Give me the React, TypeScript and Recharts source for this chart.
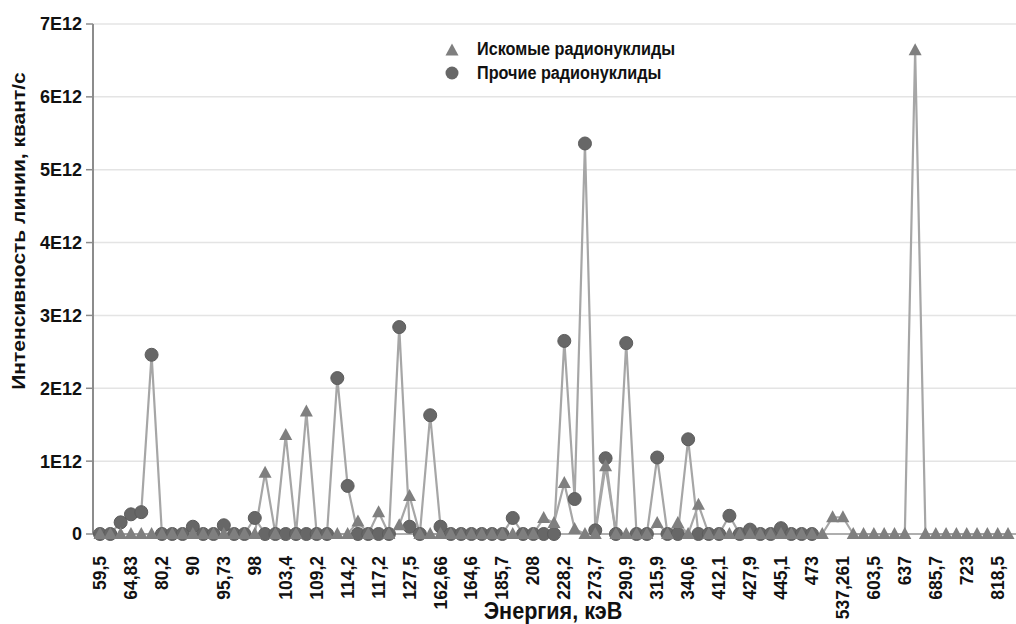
import { LineChart, Line, XAxis, YAxis, CartesianGrid, Legend } from "recharts";

// energy lines, keV (every third one is labelled on the axis)
const energies = [
  "59,5", "60,2", "63,3", "64,83", "72,8", "74,97", "80,2", "84,2", "87,3", "90",
  "92,4", "93,4", "95,73", "96,7", "97,4", "98", "99,5", "101,1", "103,4", "105,3",
  "106,1", "109,2", "110,8", "111,3", "114,2", "115,2", "116,3", "117,2", "121,1", "125,7",
  "127,5", "129,3", "158,4", "162,66", "163,3", "163,9", "164,6", "168,6", "176,4", "185,7",
  "192,4", "205,3", "208", "209,3", "215,7", "228,2", "238,6", "241,9", "273,7", "277,4",
  "285,5", "290,9", "295,2", "300,1", "315,9", "319,4", "328,8", "340,6", "351,9", "401,8",
  "412,1", "414,4", "418,5", "427,9", "433,9", "438,6", "445,1", "452,5", "463", "473",
  "510,8", "520,2", "537,261", "563,2", "583,2", "603,5", "609,3", "621,9", "637", "661,7",
  "680,5", "685,7", "696,5", "709,3", "723", "752,5", "795,9", "818,5", "834,8",
];

// intensity, units of 1E12 quanta/s
const soughtValues = [
  0, 0, 0, 0, 0, 0, 0, 0, 0, 0,
  0, 0, 0, 0, 0, 0, 0.84, 0, 1.36, 0,
  1.68, 0, 0, 0, 0, 0.17, 0, 0.3, 0, 0.12,
  0.52, 0, 0, 0, 0, 0, 0, 0, 0, 0,
  0, 0, 0, 0.22, 0.15, 0.7, 0.07, 0, 0, 0.93,
  0, 0, 0, 0, 0.15, 0, 0.15, 0, 0.4, 0,
  0, 0, 0, 0, 0, 0, 0, 0, 0, 0,
  0, 0.23, 0.23, 0, 0, 0, 0, 0, 0, 6.64,
  0, 0, 0, 0, 0, 0, 0, 0, 0,
];

const otherValues = [
  0, 0, 0.16, 0.27, 0.3, 2.46, 0, 0, 0, 0.1,
  0, 0, 0.12, 0, 0, 0.22, 0, 0, 0, 0,
  0, 0, 0, 2.14, 0.66, 0, 0, 0, 0, 2.84,
  0.1, 0, 1.63, 0.1, 0, 0, 0, 0, 0, 0,
  0.22, 0, 0, 0, 0, 2.65, 0.48, 5.36, 0.05, 1.04,
  0, 2.62, 0, 0, 1.05, 0, 0, 1.3, 0, 0,
  0, 0.25, 0, 0.06, 0, 0, 0.08, 0, 0, 0,
  null, null, null, null, null, null, null, null, null, null,
  null, null, null, null, null, null, null, null, null,
];

const yTicks = [0, 1, 2, 3, 4, 5, 6, 7];

const data = energies.map((e, i) => ({
  e,
  sought: soughtValues[i],
  other: otherValues[i],
}));

const FONT = "'Liberation Sans', Arial, sans-serif";
const TRI = "#7f7f7f";
const CIRC = "#676767";
const LINE = "#a6a6a6";

const TriangleDot = (props: any) => {
  const { cx, cy, index } = props;
  if (cx == null || cy == null) return <g key={`t${index}`} />;
  return (
    <path
      key={`t${index}`}
      d={`M${cx},${cy - 7}L${cx + 6.5},${cy + 5}L${cx - 6.5},${cy + 5}Z`}
      fill={TRI}
    />
  );
};

const XTick = ({ x, y, payload }: any) => (
  <g transform={`translate(${x},${y + 14})`}>
    <text
      x={0}
      y={0}
      dy={6}
      textAnchor="end"
      transform="rotate(-90)"
      fontSize={17.5}
      fontWeight="bold"
      fontFamily={FONT}
      fill="#111"
    >
      {payload.value}
    </text>
  </g>
);

const legendText = {
  display: "inline-block",
  transform: "scaleX(0.9)",
  transformOrigin: "left center",
  whiteSpace: "nowrap" as const,
};

const renderLegend = () => (
  <div style={{ fontFamily: FONT, fontSize: 18, fontWeight: "bold", color: "#111" }}>
    <div style={{ display: "flex", alignItems: "center", height: 23.5 }}>
      <svg width={16} height={16} style={{ marginRight: 17 }}>
        <path d="M8,1.5L14.5,13.5L1.5,13.5Z" fill={TRI} />
      </svg>
      <span style={legendText}>Искомые радионуклиды</span>
    </div>
    <div style={{ display: "flex", alignItems: "center", height: 23.5 }}>
      <svg width={16} height={16} style={{ marginRight: 17 }}>
        <circle cx={8} cy={8} r={6.5} fill={CIRC} />
      </svg>
      <span style={legendText}>Прочие радионуклиды</span>
    </div>
  </div>
);

export default function App() {
  return (
    <div style={{ position: "absolute", left: 0, top: 0, background: "#fff" }}>
      <LineChart
        width={1016}
        height={624}
        data={data}
        margin={{ top: 24, right: 0, bottom: 0, left: 0 }}
      >
        <CartesianGrid vertical={false} stroke="#e4e4e4" strokeWidth={1.5} />
        <XAxis
          dataKey="e"
          interval={2}
          height={90}
          padding={{ left: 7, right: 8 }}
          tick={<XTick />}
          tickLine={false}
          axisLine={{ stroke: "#9a9a9a", strokeWidth: 1.5 }}
          label={{
            content: () => (
              <text
                x={0}
                y={0}
                transform="translate(553 619) scale(0.9 1)"
                textAnchor="middle"
                fontSize={24}
                fontWeight="bold"
                fontFamily={FONT}
                fill="#111"
              >
                Энергия, кэВ
              </text>
            ),
          }}
        />
        <YAxis
          width={93}
          domain={[0, 7]}
          ticks={yTicks}
          interval={0}
          tickFormatter={(v: number) => (v === 0 ? "0" : `${v}E12`)}
          tick={{ fontSize: 18, fontWeight: "bold", fontFamily: FONT, fill: "#111" }}
          tickSize={7}
          tickMargin={4}
          tickLine={{ stroke: "#8c8c8c", strokeWidth: 1.5 }}
          axisLine={{ stroke: "#8c8c8c", strokeWidth: 2 }}
          label={{
            content: () => (
              <text
                x={0}
                y={0}
                transform="translate(18 231) scale(0.9 1) rotate(-90)"
                textAnchor="middle"
                dominantBaseline="central"
                fontSize={21}
                fontWeight="bold"
                fontFamily={FONT}
                fill="#111"
              >
                Интенсивность линии, квант/с
              </text>
            ),
          }}
        />
        <Legend
          layout="vertical"
          align="center"
          verticalAlign="middle"
          content={renderLegend}
          wrapperStyle={{ top: 38, left: 444, width: 260, height: 50 }}
        />
        <Line
          type="linear"
          dataKey="other"
          name="Прочие радионуклиды"
          stroke={LINE}
          strokeWidth={2.2}
          dot={{ r: 6.5, fill: CIRC, stroke: "#5c5c5c", strokeWidth: 1 }}
          activeDot={false}
          isAnimationActive={false}
        />
        <Line
          type="linear"
          dataKey="sought"
          name="Искомые радионуклиды"
          stroke={LINE}
          strokeWidth={2.2}
          dot={TriangleDot}
          activeDot={false}
          isAnimationActive={false}
        />
      </LineChart>
    </div>
  );
}
